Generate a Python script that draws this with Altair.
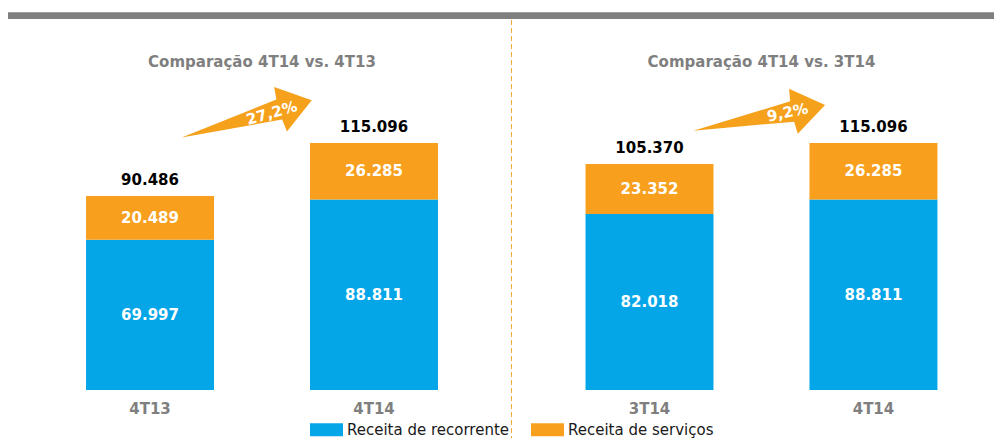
import altair as alt
import pandas as pd

# ---------------- data ----------------
paineis = ["Comparação 4T14 vs. 4T13", "Comparação 4T14 vs. 3T14"]
posicoes = ["anterior", "atual"]
periodos = [["4T13", "4T14"], ["3T14", "4T14"]]
recorrente = [[69997, 88811], [82018, 88811]]
servicos = [[20489, 26285], [23352, 26285]]
totais = [[90486, 115096], [105370, 115096]]
variacao = ["27,2%", "9,2%"]
series = ["Receita de recorrente", "Receita de serviços"]
cores = ["#05A6E8", "#F8A01E"]


def fmt(v):
    return f"{v:,}".replace(",", ".")


rows, tot_rows = [], []
for i, p in enumerate(paineis):
    for j, pos in enumerate(posicoes):
        r, s = recorrente[i][j], servicos[i][j]
        rows.append(dict(painel=p, posicao=pos, tipo=series[0], y0=0, y1=r,
                         meio=r / 2, label=fmt(r)))
        rows.append(dict(painel=p, posicao=pos, tipo=series[1], y0=r, y1=r + s,
                         meio=r + s / 2, label=fmt(s)))
        tot_rows.append(dict(painel=p, posicao=pos, periodo=periodos[i][j],
                             total=totais[i][j], label=fmt(totais[i][j])))
df_bars = pd.DataFrame(rows)
df_tot = pd.DataFrame(tot_rows)
df_tit = pd.DataFrame({"painel": paineis})
dummy = pd.DataFrame({"a": [0]})

# ---------------- layout ----------------
W, H = 986, 430
K = 0.002145          # px per unit
Y0 = 382              # pixel row of value zero
ymin = (Y0 - H) / K
ymax = ymin + H / K

FONT = "DejaVu Sans"
GRAY = "#7F7F7F"
ORANGE = "#F5A11C"

x_enc = alt.X("painel:N", scale=alt.Scale(domain=paineis, range=[29, 978.5],
                                           paddingInner=0.099, paddingOuter=0),
              axis=None)
xo_enc = alt.XOffset("posicao:N", scale=alt.Scale(domain=posicoes,
                                                   paddingInner=0.4286,
                                                   paddingOuter=0.219))
y_scale = alt.Scale(domain=[ymin, ymax], nice=False, zero=False)

rect_path = "M-1,-0.394L1,-0.394L1,0.394L-1,0.394Z"
arrow_path = "M-1,0L0.5,-0.154L0.52,-0.343L1,0L0.52,0.343L0.5,0.154Z"

bars = alt.Chart(df_bars).mark_bar().encode(
    x=x_enc, xOffset=xo_enc,
    y=alt.Y("y0:Q", scale=y_scale, axis=None),
    y2="y1:Q",
    color=alt.Color("tipo:N", scale=alt.Scale(domain=series, range=cores),
                    legend=alt.Legend(orient="none", legendX=302, legendY=405,
                                      direction="horizontal", title=None,
                                      symbolType=rect_path, symbolSize=1089,
                                      symbolStrokeWidth=0, symbolOpacity=1,
                                      labelFont=FONT, labelFontSize=15,
                                      labelColor="#1a1a1a", labelOffset=4,
                                      labelLimit=0,
                                      columnPadding=21, padding=0, rowPadding=0)),
)

seg_labels = alt.Chart(df_bars).mark_text(
    font=FONT, fontSize=15, fontWeight="bold", color="white", baseline="middle"
).encode(x=x_enc, xOffset=xo_enc, y=alt.Y("meio:Q", scale=y_scale), text="label:N")

tot_labels = alt.Chart(df_tot).mark_text(
    font=FONT, fontSize=15, fontWeight="bold", color="black",
    baseline="alphabetic", dy=-11
).encode(x=x_enc, xOffset=xo_enc, y=alt.Y("total:Q", scale=y_scale), text="label:N")

x_labels = alt.Chart(df_tot).mark_text(
    font=FONT, fontSize=15, fontWeight="bold", color=GRAY,
    baseline="alphabetic", dy=24
).encode(x=x_enc, xOffset=xo_enc, y=alt.Y(datum=0, scale=y_scale), text="periodo:N")

titles = alt.Chart(df_tit).mark_text(
    font=FONT, fontSize=15, fontWeight="bold", color=GRAY, baseline="alphabetic"
).encode(x=x_enc, y=alt.value(59), text="painel:N")

top_bar = alt.Chart(dummy).mark_rule(color=GRAY, strokeWidth=6.7).encode(
    x=alt.value(0), x2=alt.value(W), y=alt.value(7.65))

sep = alt.Chart(dummy).mark_rule(color="#F2A83B", strokeWidth=1,
                                 strokeDash=[5, 3]).encode(
    x=alt.value(503.5), y=alt.value(12), y2=alt.value(H))

arrow1 = alt.Chart(dummy).mark_point(shape=arrow_path, size=18333, filled=True,
                                     color=ORANGE, opacity=1, strokeWidth=0,
                                     angle=344).encode(
    x=alt.value(238.7), y=alt.value(110.9))
arrow2 = alt.Chart(dummy).mark_point(shape=arrow_path, size=18010, filled=True,
                                     color=ORANGE, opacity=1, strokeWidth=0,
                                     angle=349).encode(
    x=alt.value(751.2), y=alt.value(109.9))
pct1 = alt.Chart(pd.DataFrame({"t": [variacao[0]]})).mark_text(
    font=FONT, fontSize=15, fontWeight="bold", color="white", angle=344,
    baseline="middle").encode(x=alt.value(263.7), y=alt.value(105), text="t:N")
pct2 = alt.Chart(pd.DataFrame({"t": [variacao[1]]})).mark_text(
    font=FONT, fontSize=15, fontWeight="bold", color="white", angle=348,
    baseline="middle").encode(x=alt.value(779.5), y=alt.value(104.5), text="t:N")

chart = alt.layer(
    top_bar, sep, bars, seg_labels, tot_labels, x_labels, titles,
    arrow1, arrow2, pct1, pct2
).properties(
    width=W, height=H, autosize=alt.AutoSizeParams(type="none"), padding=0
).configure(font=FONT).configure_view(stroke=None)

chart.save("out.html", embed_options={"renderer": "svg", "actions": False})
